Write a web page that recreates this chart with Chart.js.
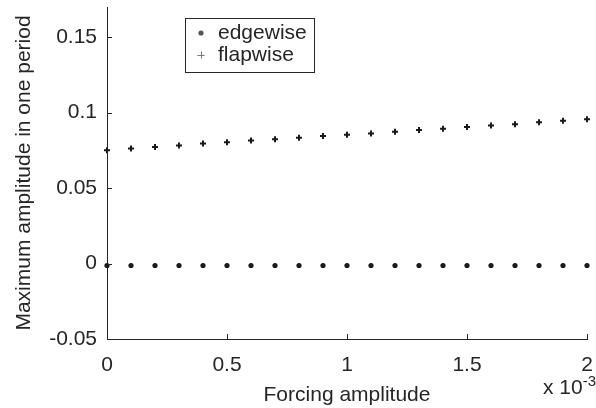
<!DOCTYPE html>
<html>
<head>
<meta charset="utf-8">
<script src="https://cdn.jsdelivr.net/npm/chart.js@4/dist/chart.umd.min.js"></script>
<style>
  html, body { margin: 0; padding: 0; background: #ffffff; }
  #wrap { width: 596px; height: 408px; }
</style>
</head>
<body>
<div id="wrap"><canvas id="c" width="596" height="408"></canvas></div>
<script>
// Forcing amplitude (x) and peak amplitudes for each direction
const forcing = [0, 0.0001, 0.0002, 0.0003, 0.0004, 0.0005, 0.0006, 0.0007, 0.0008, 0.0009, 0.0010,
                 0.0011, 0.0012, 0.0013, 0.0014, 0.0015, 0.0016, 0.0017, 0.0018, 0.0019, 0.0020];
const edgewise = [-0.0013, -0.0013, -0.0013, -0.0013, -0.0013, -0.0013, -0.0013, -0.0013, -0.0013, -0.0013, -0.0013,
                  -0.0013, -0.0013, -0.0013, -0.0013, -0.0013, -0.0013, -0.0013, -0.0013, -0.0013, -0.0013];
const flapwise = [0.0750, 0.0762, 0.0773, 0.0783, 0.0795, 0.0803, 0.0815, 0.0823, 0.0834, 0.0846, 0.0853,
                  0.0861, 0.0874, 0.0885, 0.0894, 0.0905, 0.0914, 0.0923, 0.0936, 0.0947, 0.0956];
const seriesNames = ['edgewise', 'flapwise'];
const xTicks = [0, 0.0005, 0.0010, 0.0015, 0.0020];
const yTicks = [-0.05, 0, 0.05, 0.1, 0.15];
const xRange = [0, 0.002];
const yRange = [-0.05, 0.17];

const INK = '#262626';
const FONT = "'Liberation Sans', Arial, Helvetica, sans-serif";

const toPoints = (xs, ys) => xs.map((x, i) => ({ x: x, y: ys[i] }));

// Tick marks pointing into the plot area, drawn from each scale's ticks
const inwardTicks = {
  id: 'inwardTicks',
  afterDatasetsDraw(chart) {
    const { ctx, chartArea, scales } = chart;
    const len = 5;
    ctx.save();
    ctx.strokeStyle = INK;
    ctx.lineWidth = 1;
    ctx.beginPath();
    scales.x.ticks.forEach(t => {
      const px = Math.round(scales.x.getPixelForValue(t.value)) + 0.5;
      ctx.moveTo(px, chartArea.bottom);
      ctx.lineTo(px, chartArea.bottom - len);
    });
    scales.y.ticks.forEach(t => {
      const py = Math.round(scales.y.getPixelForValue(t.value)) + 0.5;
      ctx.moveTo(chartArea.left, py);
      ctx.lineTo(chartArea.left + len, py);
    });
    ctx.stroke();
    ctx.restore();
  }
};

// Exponent note under the right end of the x axis
const exponentNote = {
  id: 'exponentNote',
  afterDraw(chart) {
    const { ctx } = chart;
    ctx.save();
    ctx.fillStyle = INK;
    ctx.textBaseline = 'alphabetic';
    ctx.textAlign = 'left';
    ctx.font = '21px ' + FONT;
    const base = 'x 10';
    const x0 = 543, y0 = 394;
    ctx.fillText(base, x0, y0);
    const w = ctx.measureText(base).width;
    ctx.font = '15px ' + FONT;
    ctx.fillText('-3', x0 + w, y0 - 8);
    ctx.restore();
  }
};

// Boxed legend placed inside the plot area
const boxLegend = {
  id: 'boxLegend',
  afterDraw(chart) {
    const { ctx } = chart;
    const box = { x: 185.5, y: 18.5, w: 129, h: 54 };
    ctx.save();
    ctx.fillStyle = '#ffffff';
    ctx.fillRect(box.x, box.y, box.w, box.h);
    ctx.strokeStyle = INK;
    ctx.lineWidth = 1;
    ctx.strokeRect(box.x, box.y, box.w, box.h);
    const rows = [33, 55];
    const mx = 201;
    // dot marker
    ctx.fillStyle = '#555555';
    ctx.beginPath();
    ctx.arc(mx, rows[0], 2.6, 0, Math.PI * 2);
    ctx.fill();
    // plus marker
    ctx.strokeStyle = '#777777';
    ctx.beginPath();
    ctx.moveTo(mx - 3.5, rows[1] + 0.5);
    ctx.lineTo(mx + 3.5, rows[1] + 0.5);
    ctx.moveTo(mx + 0.5, rows[1] - 3.5);
    ctx.lineTo(mx + 0.5, rows[1] + 3.5);
    ctx.stroke();
    ctx.fillStyle = INK;
    ctx.font = '21px ' + FONT;
    ctx.textAlign = 'left';
    ctx.textBaseline = 'middle';
    chart.data.datasets.forEach((ds, i) => {
      ctx.fillText(ds.label, 218, rows[i]);
    });
    ctx.restore();
  }
};

const fmtX = v => String(Math.round(v * 10000) / 10);
const fmtY = v => String(Math.round(v * 100) / 100);

new Chart(document.getElementById('c'), {
  type: 'scatter',
  data: {
    datasets: [
      {
        label: seriesNames[0],
        data: toPoints(forcing, edgewise),
        pointStyle: 'circle',
        pointRadius: 2.6,
        pointHoverRadius: 2.6,
        backgroundColor: '#1a1a1a',
        borderColor: '#1a1a1a',
        borderWidth: 0,
        clip: false
      },
      {
        label: seriesNames[1],
        data: toPoints(forcing, flapwise),
        pointStyle: 'cross',
        pointRadius: 3,
        pointHoverRadius: 3,
        backgroundColor: '#1a1a1a',
        borderColor: '#1a1a1a',
        borderWidth: 2,
        clip: false
      }
    ]
  },
  options: {
    responsive: false,
    animation: false,
    devicePixelRatio: 1,
    layout: { padding: { top: 7, right: 9, left: 0, bottom: 0 } },
    plugins: {
      legend: { display: false },
      tooltip: { enabled: false }
    },
    scales: {
      x: {
        type: 'linear',
        min: xRange[0],
        max: xRange[1],
        afterBuildTicks: s => { s.ticks = xTicks.map(v => ({ value: v })); },
        afterFit: s => { s.height = 69; s.paddingLeft = 0; s.paddingRight = 0; },
        grid: { display: true, drawOnChartArea: false, drawTicks: false },
        border: { display: true, color: INK, width: 1 },
        ticks: {
          autoSkip: false,
          maxRotation: 0,
          padding: 14,
          color: INK,
          font: { family: FONT, size: 21 },
          callback: v => fmtX(v)
        },
        title: {
          display: true,
          text: 'Forcing amplitude',
          color: INK,
          font: { family: FONT, size: 21 },
          padding: { top: 0, bottom: 0 }
        }
      },
      y: {
        type: 'linear',
        min: yRange[0],
        max: yRange[1],
        afterBuildTicks: s => { s.ticks = yTicks.map(v => ({ value: v })); },
        afterFit: s => { s.width = 107; s.paddingTop = 0; s.paddingBottom = 0; },
        grid: { display: true, drawOnChartArea: false, drawTicks: false },
        border: { display: true, color: INK, width: 1 },
        ticks: {
          autoSkip: false,
          padding: 10,
          color: INK,
          font: { family: FONT, size: 21 },
          callback: v => fmtY(v)
        },
        title: {
          display: true,
          text: 'Maximum amplitude in one period',
          color: INK,
          font: { family: FONT, size: 21 },
          padding: { top: 12, bottom: 0 }
        }
      }
    }
  },
  plugins: [inwardTicks, boxLegend, exponentNote]
});
</script>
</body>
</html>
